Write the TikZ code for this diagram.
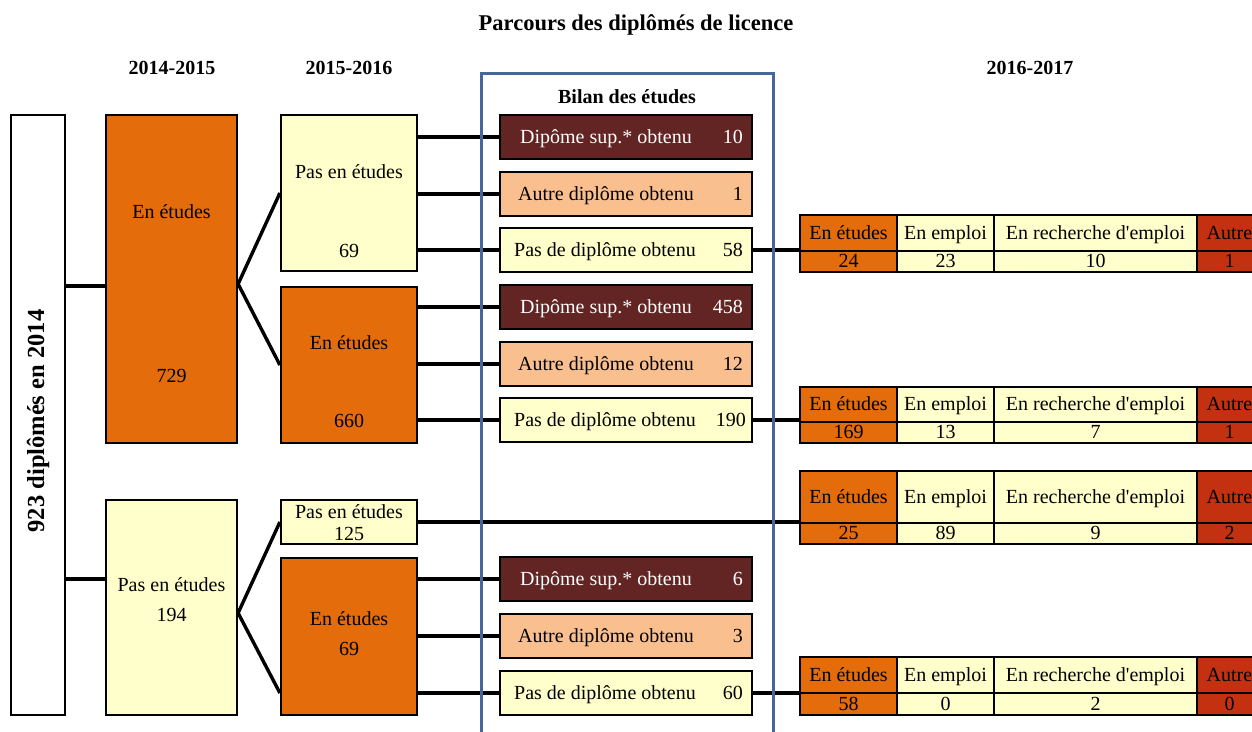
\documentclass[tikz,border=0pt]{standalone}
\usepackage{fontspec}
\setmainfont{Liberation Serif}
\usetikzlibrary{calc,backgrounds}
\definecolor{etud}{HTML}{E46C0A}
\definecolor{pale}{HTML}{FFFFCC}
\definecolor{brun}{HTML}{632523}
\definecolor{peche}{HTML}{FABF8F}
\definecolor{rouge}{HTML}{C33111}
\definecolor{cadre}{HTML}{46679A}
\newcommand\mytab[8]{%
 \pgfmathsetmacro\hhh{#3-#2}\pgfmathsetmacro\hcc{(#2+#3)/2}%
 \pgfmathsetmacro\vhh{#4-#3}\pgfmathsetmacro\vcc{(#3+#4)/2}%
 \node[cell, fill=etud, minimum width=97pt, minimum height=\hhh pt] (#1h1) at (848.5,\hcc) {En études};
 \node[cell, fill=pale, minimum width=97pt, minimum height=\hhh pt] (#1h2) at (945.5,\hcc) {En emploi};
 \node[cell, fill=pale, minimum width=203pt, minimum height=\hhh pt] (#1h3) at (1095.5,\hcc) {En recherche d\textquotesingle emploi};
 \node[cell, fill=rouge, minimum width=65pt, minimum height=\hhh pt] (#1h4) at (1229.5,\hcc) {Autre};
 \node[cell, fill=etud, minimum width=97pt, minimum height=\vhh pt] (#1v1) at (848.5,\vcc) {#5};
 \node[cell, fill=pale, minimum width=97pt, minimum height=\vhh pt] (#1v2) at (945.5,\vcc) {#6};
 \node[cell, fill=pale, minimum width=203pt, minimum height=\vhh pt] (#1v3) at (1095.5,\vcc) {#7};
 \node[cell, fill=rouge, minimum width=65pt, minimum height=\vhh pt] (#1v4) at (1229.5,\vcc) {#8};
}
\begin{document}
\begin{tikzpicture}[x=1pt,y=-1pt,
 box/.style={draw=black, line width=2.2pt, inner sep=0pt, rectangle},
 conn/.style={line width=3.4pt, draw=black},
 txt/.style={font=\fontsize{20}{22}\selectfont, inner sep=0pt, text height=15pt, text depth=3pt},
 boldtxt/.style={font=\fontsize{20}{22}\selectfont\bfseries, inner sep=0pt},
 cell/.style={draw=black, line width=2.2pt, inner sep=0pt, rectangle, font=\fontsize{20}{22}\selectfont, text height=15pt, text depth=3pt},
 bil/.style={box, minimum width=252pt, minimum height=44pt},
]
\useasboundingbox (0,0) rectangle (1252,731);

% titles
\node[font=\fontsize{22.5}{24}\selectfont\bfseries, inner sep=0pt] (title) at (636,25) {Parcours des diplômés de licence};
\node[boldtxt] (h1) at (172,68) {2014-2015};
\node[boldtxt] (h2) at (349,68) {2015-2016};
\node[boldtxt] (h3) at (1030,68) {2016-2017};

% left box
\node[box, fill=white, minimum width=54pt, minimum height=600pt] (L) at (38,415) {};
\node[font=\fontsize{24.5}{26}\selectfont\bfseries, inner sep=0pt, rotate=90] (Lt) at (38,421) {923 diplômés en 2014};

% 2014-2015
\node[box, fill=etud, minimum width=131pt, minimum height=328pt] (A1) at (171.5,279) {};
\node[txt] (A1a) at (171.5,212) {En études};
\node[txt] (A1b) at (171.5,376) {729};
\node[box, fill=pale, minimum width=131pt, minimum height=215pt] (A2) at (171.5,607.5) {};
\node[txt] (A2a) at (171.5,585) {Pas en études};
\node[txt] (A2b) at (171.5,615) {194};

% 2015-2016
\node[box, fill=pale, minimum width=136pt, minimum height=156pt] (B1) at (349,193) {};
\node[txt] (B1a) at (349,172) {Pas en études};
\node[txt] (B1b) at (349,251) {69};
\node[box, fill=etud, minimum width=136pt, minimum height=156pt] (B2) at (349,365) {};
\node[txt] (B2a) at (349,343) {En études};
\node[txt] (B2b) at (349,421) {660};
\node[box, fill=pale, minimum width=136pt, minimum height=44pt] (B3) at (349,522) {};
\node[txt] (B3a) at (349,512) {Pas en études};
\node[txt] (B3b) at (349,534) {125};
\node[box, fill=etud, minimum width=136pt, minimum height=157pt] (B4) at (349,636.5) {};
\node[txt] (B4a) at (349,619) {En études};
\node[txt] (B4b) at (349,649) {69};

% Bilan des etudes
\node[boldtxt] (bt) at (627,97) {Bilan des études};
\node[bil, fill=brun] (C1) at (626,137) {};
\node[txt, text=white] (C1a) at (606,137) {Dipôme sup.* obtenu};
\node[txt, text=white, anchor=east] (C1b) at (743,137) {10};
\node[bil, fill=peche] (C2) at (626,194) {};
\node[txt] (C2a) at (606,194) {Autre diplôme obtenu};
\node[txt, anchor=east] (C2b) at (743,194) {1};
\node[bil, fill=pale] (C3) at (626,250) {};
\node[txt] (C3a) at (605,250) {Pas de diplôme obtenu};
\node[txt, anchor=east] (C3b) at (743,250) {58};

\node[bil, fill=brun] (C4) at (626,307) {};
\node[txt, text=white] (C4a) at (606,307) {Dipôme sup.* obtenu};
\node[txt, text=white, anchor=east] (C4b) at (743,307) {458};
\node[bil, fill=peche] (C5) at (626,364) {};
\node[txt] (C5a) at (606,364) {Autre diplôme obtenu};
\node[txt, anchor=east] (C5b) at (743,364) {12};
\node[bil, fill=pale] (C6) at (626,420) {};
\node[txt] (C6a) at (605,420) {Pas de diplôme obtenu};
\node[txt, anchor=east] (C6b) at (746,420) {190};

\node[bil, fill=brun] (C7) at (626,579) {};
\node[txt, text=white] (C7a) at (606,579) {Dipôme sup.* obtenu};
\node[txt, text=white, anchor=east] (C7b) at (743,579) {6};
\node[bil, fill=peche] (C8) at (626,636) {};
\node[txt] (C8a) at (606,636) {Autre diplôme obtenu};
\node[txt, anchor=east] (C8b) at (743,636) {3};
\node[bil, fill=pale] (C9) at (626,693) {};
\node[txt] (C9a) at (605,693) {Pas de diplôme obtenu};
\node[txt, anchor=east] (C9b) at (743,693) {60};

% 2016-2017 tables
\mytab{T1}{215}{251}{272}{24}{23}{10}{1}
\mytab{T2}{387}{422}{443}{169}{13}{7}{1}
\mytab{T3}{471}{523}{544}{25}{89}{9}{2}
\mytab{T4}{657}{693}{715}{58}{0}{2}{0}

% connectors
\coordinate (a1in) at ([yshift=-7pt]A1.west);
\coordinate (a2in) at ([yshift=28.5pt]A2.west);
\coordinate (a1out) at ([yshift=-5pt]A1.east);
\coordinate (a2out) at ([yshift=-5.5pt]A2.east);
\coordinate (b4in) at ([yshift=-56.5pt]B4.west);
\begin{scope}[on background layer]
\draw[conn] (a1in -| L.east) -- (a1in);
\draw[conn] (a2in -| L.east) -- (a2in);
\draw[conn] (B1.west) -- (a1out) -- (B2.west);
\draw[conn] (B3.west) -- (a2out) -- (b4in);
\draw[conn] (C1.west -| B1.east) -- (C1.west);
\draw[conn] (C2.west -| B1.east) -- (C2.west);
\draw[conn] (C3.west -| B1.east) -- (C3.west);
\draw[conn] (C4.west -| B2.east) -- (C4.west);
\draw[conn] (C5.west -| B2.east) -- (C5.west);
\draw[conn] (C6.west -| B2.east) -- (C6.west);
\draw[conn] (C7.west -| B4.east) -- (C7.west);
\draw[conn] (C8.west -| B4.east) -- (C8.west);
\draw[conn] (C9.west -| B4.east) -- (C9.west);
\draw[conn] (B3.east) -- (B3.east -| T3v1.west);
\draw[conn] (C3.east) -- (C3.east -| T1v1.west);
\draw[conn] (C6.east) -- (C6.east -| T2v1.west);
\draw[conn] (C9.east) -- (C9.east -| T4v1.west);
\end{scope}

% blue frame
\node[draw=cadre, line width=3pt, inner sep=0pt, minimum width=292pt, minimum height=680pt] (F) at (627,413) {};
\end{tikzpicture}
\end{document}
